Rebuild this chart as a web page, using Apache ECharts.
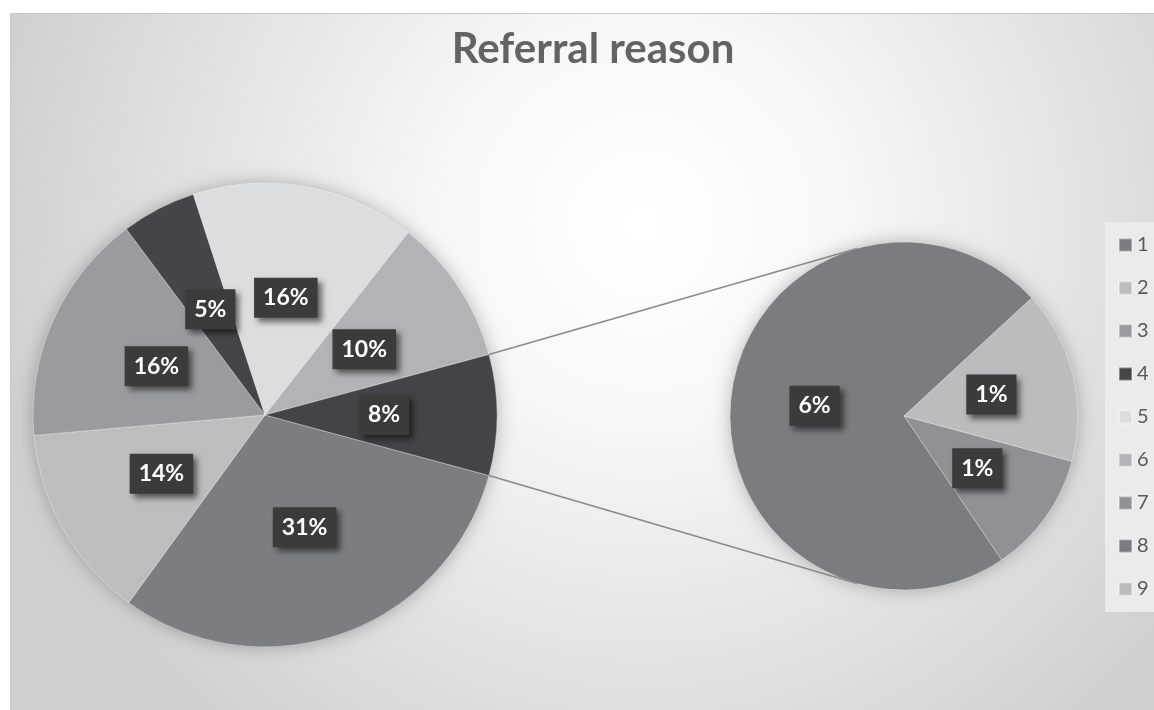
<!DOCTYPE html>
<html>
<head>
<meta charset="utf-8">
<script src="https://cdn.jsdelivr.net/npm/echarts@6/dist/echarts.min.js"></script>
<style>
html, body { margin: 0; padding: 0; background: #fff; }
#chart { width: 1154px; height: 710px; }
</style>
</head>
<body>
<div id="chart"></div>
<script>
// referral reasons, share of all referrals (%)
const mainNames = ['1', '2', '3', '4', '5', '6']
const mainValues = [30.8, 13.6, 16.2, 5.2, 15.6, 10.2]
// reasons split out into the second pie
const subNames = ['7', '8', '9']
const subValues = [0.95, 6.1, 1.35]

const mainColors = ['#7c7d81', '#bcbdbf', '#9a9b9e', '#444548', '#dcdddf', '#b2b3b6']
const otherColor = '#434447'
const subColors = ['#909195', '#7b7c80', '#bbbcbe']

const font = 'Lato, "Open Sans", sans-serif'

// pie geometry (px)
const mainCenter = [265, 415]
const mainR = 232
const subCenter = [904, 416]
const subR = 174

const sum = arr => arr.reduce((a, b) => a + b, 0)
const otherSum = sum(subValues)
const total = sum(mainValues) + otherSum
// "Other" slice is centred on the right side of the main pie
const half = otherSum / total * 180
const startAngle = 360 - half

const rad = d => d * Math.PI / 180
const onCircle = (c, r, deg) => [c[0] + r * Math.cos(rad(deg)), c[1] + r * Math.sin(rad(deg))]

const labelStyle = {
  show: true,
  position: 'inside',
  formatter: p => Math.round(p.value / total * 100) + '%',
  color: '#fff',
  fontFamily: font,
  fontWeight: 'bold',
  fontSize: 23,
  lineHeight: 22,
  backgroundColor: '#3b3b3c',
  padding: [9, 9, 9, 9],
  shadowColor: 'rgba(0,0,0,0.55)',
  shadowBlur: 6,
  shadowOffsetX: 4,
  shadowOffsetY: 4
}

const mainData = mainNames.map((n, i) => ({ name: n, value: mainValues[i], itemStyle: { color: mainColors[i] } }))
mainData.push({ name: 'Other', value: otherSum, itemStyle: { color: otherColor } })
const subData = subNames.map((n, i) => ({ name: n, value: subValues[i], itemStyle: { color: subColors[i] } }))

const lineStyle = { stroke: '#8a8a8a', lineWidth: 1.6 }
const connectTop = onCircle(mainCenter, mainR, -half)
const connectBottom = onCircle(mainCenter, mainR, half)
const subTop = onCircle(subCenter, subR, -105.6)
const subBottom = onCircle(subCenter, subR, 105.6)

let myChart = echarts.init(document.getElementById('chart'))
myChart.setOption({
  animation: false,
  title: {
    text: 'Referral reason',
    left: 588,
    textAlign: 'center',
    top: 23,
    textStyle: {
      color: '#636363',
      fontFamily: font,
      fontWeight: 'bold',
      fontSize: 42
    }
  },
  legend: {
    data: mainNames.concat(subNames),
    orient: 'vertical',
    left: 1105,
    top: 222,
    padding: [13, 40, 13, 13],
    itemWidth: 13,
    itemHeight: 13,
    itemGap: 23,
    icon: 'rect',
    backgroundColor: '#ebebeb',
    selectedMode: false,
    textStyle: {
      color: '#595959',
      fontFamily: font,
      fontSize: 20,
      lineHeight: 18
    }
  },
  graphic: [
    {
      type: 'rect',
      z: -10,
      silent: true,
      shape: { x: 10.5, y: 13.5, width: 1150, height: 700 },
      style: {
        stroke: '#c8c8c8',
        lineWidth: 1,
        fill: {
          type: 'radial', x: 0.55, y: 0.3, r: 0.95,
          colorStops: [
            { offset: 0, color: '#ffffff' },
            { offset: 0.3, color: '#f7f7f7' },
            { offset: 1, color: '#cfcfcf' }
          ]
        }
      }
    },
    {
      type: 'circle', z: -5, silent: true,
      shape: { cx: mainCenter[0], cy: mainCenter[1], r: mainR - 1 },
      style: { fill: '#888', shadowBlur: 18, shadowColor: 'rgba(0,0,0,0.3)' }
    },
    {
      type: 'circle', z: -5, silent: true,
      shape: { cx: subCenter[0], cy: subCenter[1], r: subR - 1 },
      style: { fill: '#888', shadowBlur: 18, shadowColor: 'rgba(0,0,0,0.3)' }
    },
    {
      type: 'line', z: 5, silent: true,
      shape: { x1: connectTop[0], y1: connectTop[1], x2: subTop[0], y2: subTop[1] },
      style: lineStyle
    },
    {
      type: 'line', z: 5, silent: true,
      shape: { x1: connectBottom[0], y1: connectBottom[1], x2: subBottom[0], y2: subBottom[1] },
      style: lineStyle
    }
  ],
  series: [
    {
      name: 'main',
      type: 'pie',
      center: mainCenter,
      radius: mainR,
      startAngle: startAngle,
      clockwise: true,
      avoidLabelOverlap: false,
      itemStyle: { borderColor: 'rgba(255,255,255,0.35)', borderWidth: 1 },
      label: labelStyle,
      labelLine: { show: false },
      emphasis: { disabled: true },
      data: mainData
    },
    {
      name: 'sub',
      type: 'pie',
      center: subCenter,
      radius: subR,
      startAngle: startAngle,
      clockwise: true,
      avoidLabelOverlap: false,
      itemStyle: { borderColor: 'rgba(255,255,255,0.35)', borderWidth: 1 },
      label: labelStyle,
      labelLine: { show: false },
      emphasis: { disabled: true },
      data: subData
    }
  ]
})
</script>
</body>
</html>
